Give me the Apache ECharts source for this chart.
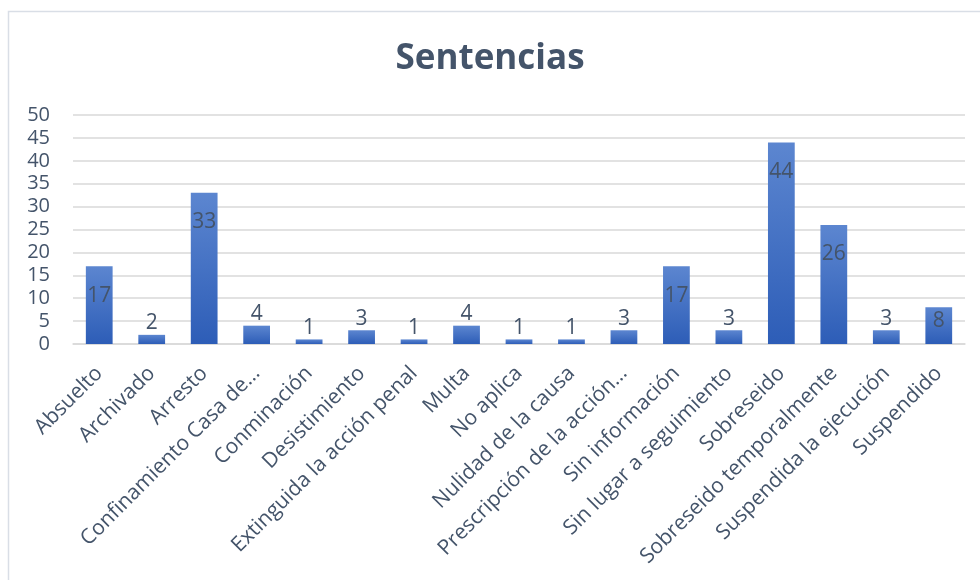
<!DOCTYPE html>
<html>
<head>
<meta charset="utf-8">
<script src="https://cdn.jsdelivr.net/npm/echarts@6/dist/echarts.min.js"></script>
<style>
html,body{margin:0;padding:0;background:#fff;}
#chart{width:980px;height:580px;}
</style>
</head>
<body>
<div id="chart"></div>
<script>
const titleText = 'Sentencias';
const categories = [
  'Absuelto', 'Archivado', 'Arresto', 'Confinamiento Casa de…', 'Conminación',
  'Desistimiento', 'Extinguida la acción penal', 'Multa', 'No aplica',
  'Nulidad de la causa', 'Prescripción de la acción…', 'Sin información',
  'Sin lugar a seguimiento', 'Sobreseido', 'Sobreseido temporalmente',
  'Suspendida la ejecución', 'Suspendido'
];
const values = [17, 2, 33, 4, 1, 3, 1, 4, 1, 1, 3, 17, 3, 44, 26, 3, 8];
const yTicks = { min: 0, max: 50, interval: 5 };

const textColor = '#44546A';
const chart = echarts.init(document.getElementById('chart'));

const seriesData = values.map(v => {
  let label;
  if (v >= 10) label = { position: 'insideTop', distance: 19 };
  else if (v >= 6) label = { position: 'insideTop', distance: 3 };
  else label = { position: 'top', distance: 1 };
  return { value: v, label: label };
});

chart.setOption({
  animation: false,
  backgroundColor: '#fff',
  textStyle: { fontFamily: 'Open Sans' },
  graphic: [{
    type: 'rect',
    shape: { x: 8.5, y: 11.5, width: 1000, height: 600 },
    style: { fill: 'none', stroke: '#D9DEE6', lineWidth: 1.5 },
    silent: true
  }],
  title: {
    text: titleText,
    left: 'center',
    top: 37,
    textStyle: { fontFamily: 'Open Sans', fontWeight: 'bold', fontSize: 35, color: textColor }
  },
  grid: { left: 73, right: 15, top: 115, bottom: 236, containLabel: false },
  xAxis: {
    type: 'category',
    data: categories,
    axisLine: { show: true, lineStyle: { color: '#D9D9D9', width: 1.5 } },
    axisTick: { show: false },
    axisLabel: {
      rotate: 45, interval: 0, margin: 26,
      fontFamily: 'Open Sans', fontSize: 21, color: textColor
    }
  },
  yAxis: {
    type: 'value',
    min: yTicks.min, max: yTicks.max, interval: yTicks.interval,
    axisLine: { show: false },
    axisTick: { show: false },
    splitLine: { lineStyle: { color: '#D9D9D9', width: 1.5 } },
    axisLabel: { margin: 23, fontFamily: 'Open Sans', fontSize: 20, color: textColor }
  },
  series: [{
    type: 'bar',
    data: seriesData,
    barWidth: '51%',
    itemStyle: {
      color: new echarts.graphic.LinearGradient(0, 0, 0, 1, [
        { offset: 0, color: '#5C86D0' },
        { offset: 1, color: '#2D5DB7' }
      ])
    },
    label: {
      show: true,
      fontFamily: 'Open Sans', fontSize: 21, color: textColor
    }
  }]
});
</script>
</body>
</html>
